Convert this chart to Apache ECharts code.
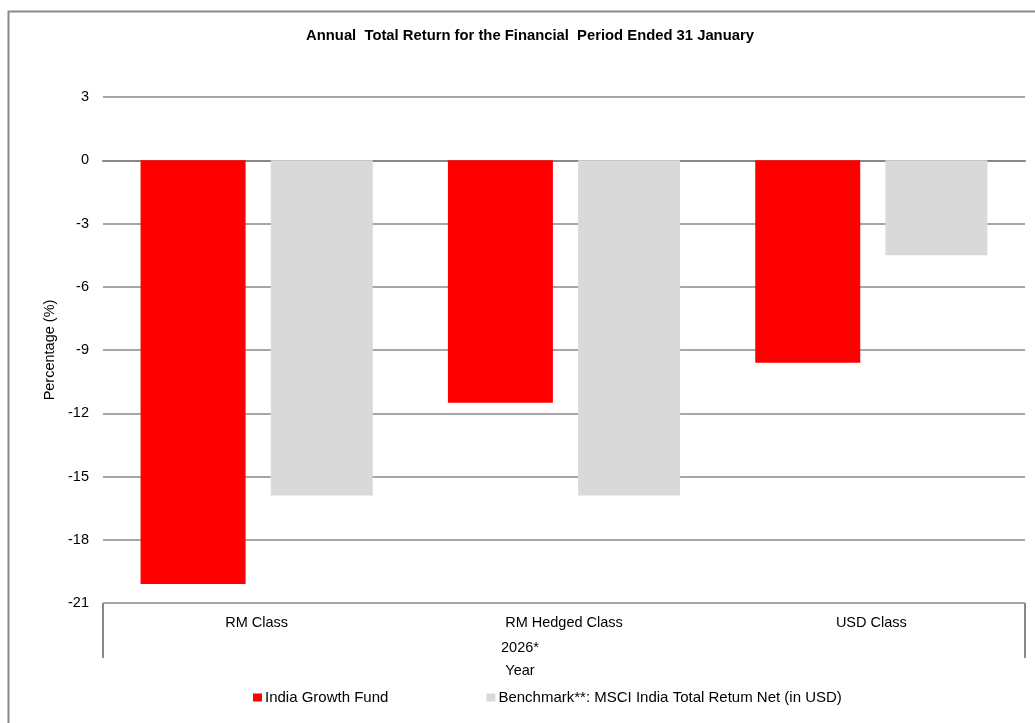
<!DOCTYPE html>
<html>
<head>
<meta charset="utf-8">
<script src="https://cdn.jsdelivr.net/npm/echarts@6/dist/echarts.min.js"></script>
<style>
html,body{margin:0;padding:0;background:#fff;}
#chart{width:1035px;height:723px;}
</style>
</head>
<body>
<div id="chart"></div>
<script>
var categories = ['RM Class', 'RM Hedged Class', 'USD Class'];
var groupLabel = ['2026*'];
var fundValues = [-20.1, -11.5, -9.6];
var benchValues = [-15.9, -15.9, -4.5];
var seriesNames = ['India Growth Fund', 'Benchmark**: MSCI India Total Retum Net (in USD)'];

var chart = echarts.init(document.getElementById('chart'));
var font = 'Liberation Sans, Arial, sans-serif';
chart.setOption({
  animation: false,
  textStyle: {fontFamily: font},
  title: {
    text: 'Annual  Total Return for the Financial  Period Ended 31 January',
    left: 525, textAlign: 'center', top: 23,
    textStyle: {fontSize: 14.8, fontWeight: 'bold', color: '#000', fontFamily: font}
  },
  graphic: [{
    type: 'rect', left: 6, top: 9, silent: true, z: -1,
    shape: {width: 1060, height: 760},
    style: {fill: 'none', stroke: '#888', lineWidth: 2}
  }],
  legend: {
    left: 248, top: 685, itemWidth: 9, itemHeight: 8, itemGap: 98,
    icon: 'rect',
    textStyle: {fontSize: 15, color: '#000', fontFamily: font, padding: [0, 0, 0, -2]},
    data: seriesNames
  },
  grid: {left: 103, right: 10, top: 97, bottom: 120, containLabel: false},
  xAxis: [{
    type: 'category', data: categories,
    axisLine: {show: true, lineStyle: {color: '#888', width: 2}},
    axisTick: {show: false},
    axisLabel: {fontSize: 14.5, color: '#000', margin: 12}
  }, {
    type: 'category', data: groupLabel, position: 'bottom',
    axisLine: {show: false},
    axisTick: {show: true, length: 55, lineStyle: {color: '#888', width: 2}},
    axisLabel: {fontSize: 14.5, color: '#000', margin: 37, padding: [0, 88, 0, 0]},
    name: 'Year', nameLocation: 'middle', nameGap: 60,
    nameTextStyle: {fontSize: 14.5, color: '#000', padding: [0, 88, 0, 0]},
    splitLine: {show: false}
  }],
  yAxis: {
    type: 'value', min: -21, max: 3, interval: 3,
    axisLine: {show: false}, axisTick: {show: false},
    axisLabel: {fontSize: 14.5, color: '#000', margin: 14},
    splitLine: {lineStyle: {color: '#888', width: 1.5}},
    name: 'Percentage (%)', nameLocation: 'middle', nameGap: 40,
    nameTextStyle: {fontSize: 14.5, color: '#000'}
  },
  series: [{
    name: seriesNames[0], type: 'bar', data: fundValues,
    itemStyle: {color: '#ff0000'}, barWidth: 105, barGap: '24%'
  }, {
    name: seriesNames[1], type: 'bar', data: benchValues,
    itemStyle: {color: '#d9d9d9'}, barWidth: 102, barGap: '24%'
  }]
});
</script>
</body>
</html>
